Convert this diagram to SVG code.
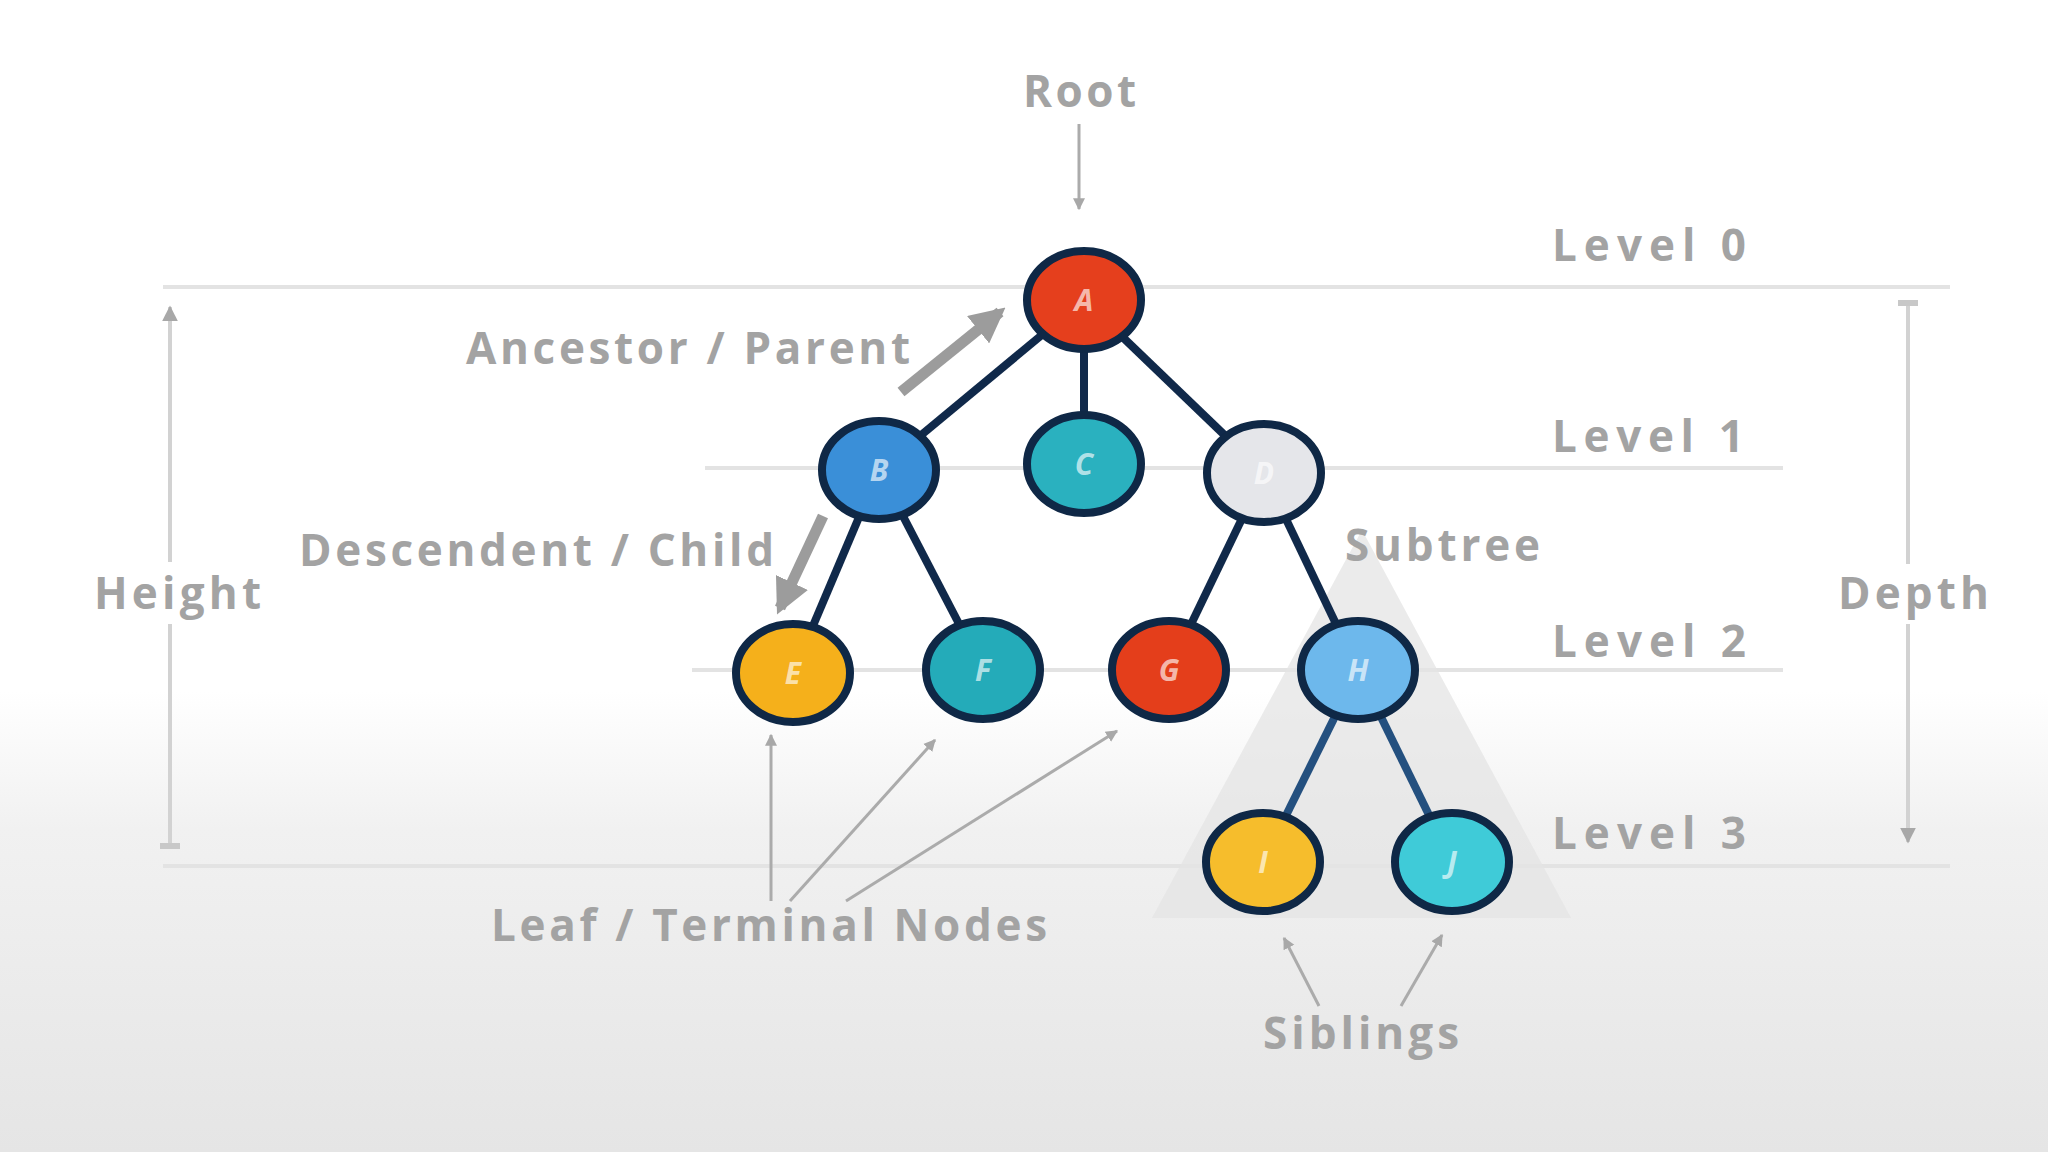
<svg xmlns="http://www.w3.org/2000/svg" width="2048" height="1152" viewBox="0 0 2048 1152">
<defs>
<linearGradient id="bg" x1="0" y1="0" x2="0" y2="1">
<stop offset="0" stop-color="#ffffff"/>
<stop offset="0.6" stop-color="#ffffff"/>
<stop offset="0.72" stop-color="#f1f1f1"/>
<stop offset="1" stop-color="#e5e5e5"/>
</linearGradient>
<marker id="thin" viewBox="0 0 10 10" refX="9" refY="5" markerWidth="4" markerHeight="5" orient="auto" markerUnits="strokeWidth">
<path d="M0,0 L10,5 L0,10 z" fill="#a8a8a8"/>
</marker>
<marker id="thick" viewBox="0 0 10 10" refX="8" refY="5" markerWidth="3.2" markerHeight="3.2" orient="auto" markerUnits="strokeWidth">
<path d="M0,0 L10,5 L0,10 z" fill="#9c9c9c"/>
</marker>
<marker id="tick" viewBox="0 0 10 10" refX="5" refY="5" markerWidth="5" markerHeight="5" orient="auto" markerUnits="strokeWidth">
<path d="M5,0 L5,10" stroke="#c8c8c8" stroke-width="3"/>
</marker>
</defs>
<style>
.lbl{font-family:"Open Sans","Liberation Sans",sans-serif;font-weight:700;fill:#a3a3a3;font-size:44px}
.lvl{stroke:#e3e3e3;stroke-width:4;fill:none}
.dim{stroke:#d2d2d2;stroke-width:4;fill:none}
.edge{stroke:#10294a;stroke-width:8;fill:none}
.edge2{stroke:#24507f;stroke-width:8;fill:none}
.node{stroke:#0f2846;stroke-width:8}
.nt{font-family:"Open Sans","Liberation Sans",sans-serif;font-weight:700;font-style:italic;font-size:30px;fill:#ffffff;fill-opacity:0.65;text-anchor:middle}
.ptr{stroke:#ababab;stroke-width:3;fill:none}
.big{stroke:#9c9c9c;stroke-width:11;fill:none}
</style>
<rect x="0" y="0" width="2048" height="1152" fill="url(#bg)"/>

<g id="level-lines">
<line class="lvl" x1="163" y1="287" x2="1950" y2="287"/>
<line class="lvl" x1="705" y1="468" x2="1783" y2="468"/>
<line class="lvl" x1="692" y1="670" x2="1783" y2="670"/>
<line class="lvl" x1="163" y1="866" x2="1950" y2="866"/>
</g>

<g id="subtree">
<polygon points="1362,530 1152,918 1571,918" fill="#e4e4e4" fill-opacity="0.75"/>
</g>

<g id="connectors">
<line class="edge" x1="1084" y1="300" x2="879" y2="470"/>
<line class="edge" x1="1084" y1="300" x2="1084" y2="464"/>
<line class="edge" x1="1084" y1="300" x2="1264" y2="473"/>
<line class="edge" x1="879" y1="470" x2="793" y2="673"/>
<line class="edge" x1="879" y1="470" x2="983" y2="670"/>
<line class="edge" x1="1264" y1="473" x2="1169" y2="670"/>
<line class="edge" x1="1264" y1="473" x2="1358" y2="670"/>
<line class="edge2" x1="1358" y1="670" x2="1263" y2="862"/>
<line class="edge2" x1="1358" y1="670" x2="1452" y2="862"/>
<line class="ptr" x1="1079" y1="124" x2="1079" y2="209" marker-end="url(#thin)"/>
<line class="big" x1="901" y1="392" x2="1000" y2="312" marker-end="url(#thick)"/>
<line class="big" x1="823" y1="516" x2="780" y2="608" marker-end="url(#thick)"/>
<line class="ptr" x1="771" y1="901" x2="771" y2="735" marker-end="url(#thin)"/>
<line class="ptr" x1="790" y1="901" x2="935" y2="740" marker-end="url(#thin)"/>
<line class="ptr" x1="846" y1="901" x2="1117" y2="731" marker-end="url(#thin)"/>
<line class="ptr" x1="1319" y1="1006" x2="1284" y2="938" marker-end="url(#thin)"/>
<line class="ptr" x1="1401" y1="1006" x2="1442" y2="935" marker-end="url(#thin)"/>
<line class="dim" x1="170" y1="562" x2="170" y2="307" marker-end="url(#thin)"/>
<line class="dim" x1="170" y1="624" x2="170" y2="846" marker-end="url(#tick)"/>
<line class="dim" x1="1908" y1="564" x2="1908" y2="303" marker-end="url(#tick)"/>
<line class="dim" x1="1908" y1="624" x2="1908" y2="842" marker-end="url(#thin)"/>
</g>

<g id="node-A"><ellipse class="node" cx="1084" cy="300" rx="57" ry="49" fill="#e53f1d"/><text class="nt" x="1084" y="311">A</text></g>
<g id="node-B"><ellipse class="node" cx="879" cy="470" rx="57" ry="49" fill="#3a8fd8"/><text class="nt" x="879" y="481">B</text></g>
<g id="node-C"><ellipse class="node" cx="1084" cy="464" rx="57" ry="49" fill="#2ab1bf"/><text class="nt" x="1084" y="475">C</text></g>
<g id="node-D"><ellipse class="node" cx="1264" cy="473" rx="57" ry="49" fill="#e5e6ea"/><text class="nt" x="1264" y="484">D</text></g>
<g id="node-E"><ellipse class="node" cx="793" cy="673" rx="57" ry="49" fill="#f5b01b"/><text class="nt" x="793" y="684">E</text></g>
<g id="node-F"><ellipse class="node" cx="983" cy="670" rx="57" ry="49" fill="#24abb9"/><text class="nt" x="983" y="681">F</text></g>
<g id="node-G"><ellipse class="node" cx="1169" cy="670" rx="57" ry="49" fill="#e43e1b"/><text class="nt" x="1169" y="681">G</text></g>
<g id="node-H"><ellipse class="node" cx="1358" cy="670" rx="57" ry="49" fill="#6db8ec" stroke="#2a68a6"/><text class="nt" x="1358" y="681">H</text></g>
<g id="node-I"><ellipse class="node" cx="1263" cy="862" rx="57" ry="49" fill="#f6bd2c" stroke="#2c5a8c"/><text class="nt" x="1263" y="873">I</text></g>
<g id="node-J"><ellipse class="node" cx="1452" cy="862" rx="57" ry="49" fill="#3fcbd8" stroke="#2a689e"/><text class="nt" x="1452" y="873">J</text></g>

<g id="labels">
<text class="lbl" x="1023" y="107" textLength="113" lengthAdjust="spacing">Root</text>
<text class="lbl" x="1552" y="261" textLength="194" lengthAdjust="spacing">Level 0</text>
<text class="lbl" x="1552" y="452" textLength="192" lengthAdjust="spacing">Level 1</text>
<text class="lbl" x="1552" y="657" textLength="194" lengthAdjust="spacing">Level 2</text>
<text class="lbl" x="1552" y="849" textLength="194" lengthAdjust="spacing">Level 3</text>
<text class="lbl" x="1838" y="609" textLength="151" lengthAdjust="spacing">Depth</text>
<text class="lbl" x="94" y="609" textLength="167" lengthAdjust="spacing">Height</text>
<text class="lbl" x="466" y="364" textLength="444" lengthAdjust="spacing">Ancestor / Parent</text>
<text class="lbl" x="299" y="566" textLength="475" lengthAdjust="spacing">Descendent / Child</text>
<text class="lbl" x="1345" y="561" textLength="195" lengthAdjust="spacing">Subtree</text>
<text class="lbl" x="491" y="941" textLength="556" lengthAdjust="spacing">Leaf / Terminal Nodes</text>
<text class="lbl" x="1263" y="1049" textLength="196" lengthAdjust="spacing">Siblings</text>
</g>
</svg>
